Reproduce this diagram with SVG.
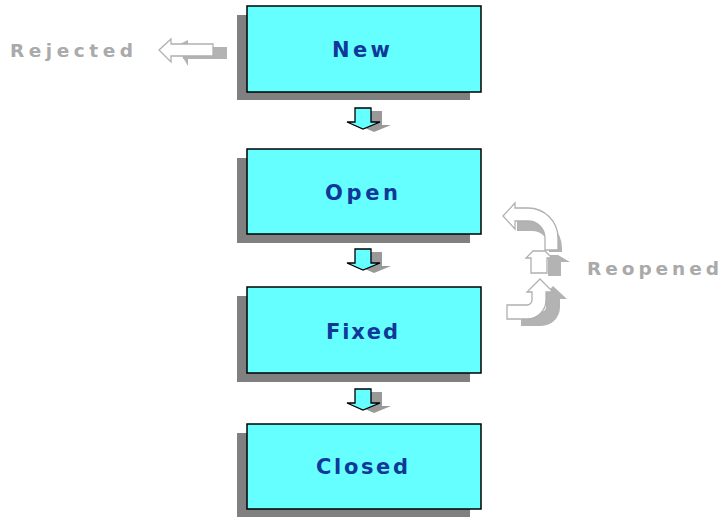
<svg xmlns="http://www.w3.org/2000/svg" width="725" height="517" viewBox="0 0 725 517">
<style>
.shadow{fill:#808080}
.box{fill:#66ffff;stroke:#000;stroke-width:1.5}
.lbl{font-family:"DejaVu Sans","Liberation Sans",sans-serif;font-weight:bold;font-size:21px;fill:#0f3898;text-anchor:middle}
.side{font-family:"DejaVu Sans","Liberation Sans",sans-serif;font-weight:bold;font-size:18.5px;fill:#aaaaaa}
.darr{fill:#66ffff;stroke:#000;stroke-width:1.3;stroke-linejoin:miter}
.dsh{fill:#999999}
.garr{fill:#ffffff;stroke:#b0b0b0;stroke-width:1.3}
.gsh{fill:#b3b3b3}
</style>
<defs>
<path id="down" d="M355,0 L371,0 L371,14 L380,14 L363,21 L347,14 L355,14 Z"/>
</defs>
<rect width="725" height="517" fill="#fff"/>
<g id="node-new">
<rect class="shadow" x="237" y="15" width="233" height="85"/>
<rect class="box" x="247" y="6" width="234" height="86"/>
<text class="lbl" x="361" y="57" textLength="58" lengthAdjust="spacing">New</text>
</g>
<g id="node-open">
<rect class="shadow" x="237" y="158" width="233" height="85"/>
<rect class="box" x="247" y="149" width="234" height="85"/>
<text class="lbl" x="361.5" y="199.5" textLength="73" lengthAdjust="spacing">Open</text>
</g>
<g id="node-fixed">
<rect class="shadow" x="237" y="296" width="233" height="86"/>
<rect class="box" x="247" y="287" width="234" height="86"/>
<text class="lbl" x="362" y="338.5" textLength="72" lengthAdjust="spacing">Fixed</text>
</g>
<g id="node-closed">
<rect class="shadow" x="237" y="433" width="233" height="84"/>
<rect class="box" x="247" y="424" width="234" height="85"/>
<text class="lbl" x="362" y="474" textLength="92" lengthAdjust="spacing">Closed</text>
</g>
<g id="connectors">
<use href="#down" class="dsh" transform="translate(11,111)"/>
<use href="#down" class="darr" transform="translate(0,108)"/>
<use href="#down" class="dsh" transform="translate(11,252)"/>
<use href="#down" class="darr" transform="translate(0,249)"/>
<use href="#down" class="dsh" transform="translate(11,392)"/>
<use href="#down" class="darr" transform="translate(0,389)"/>
<g id="rejected-arrow">
<path class="gsh" d="M183,47 L227,47 L227,59 L183,59 Z M176,46 L188,40 L188,66 Z"/>
<path class="garr" d="M159,50 L171,39 L171,44 L213,44 L213,56 L171,56 L171,62 Z"/>
</g>
<g id="reopened-arrows">
<path class="gsh" d="M517,218 L532,218 A30,30 0 0 1 562,248 L562,252 L549,252 L549,248 A17,17 0 0 0 532,231 L517,231 Z"/>
<path class="garr" d="M503,216 L515,203 L515,208 L528,208 A30,30 0 0 1 558,238 L558,250 L545,250 L545,238 A17,17 0 0 0 528,221 L515,221 L515,229 Z"/>
<path class="gsh" d="M548,255 L558,255 L570,262 L561,262 L561,276 L548,276 Z"/>
<path class="garr" d="M533,251 L545,251 L552,258 L547,258 L547,273 L531,273 L531,258 L526,258 Z"/>
<path class="gsh" d="M553,286 L567,299 L560,299 L560,307 A19,19 0 0 1 541,326 L521,326 L521,312 L541,312 A5,5 0 0 0 546,307 L546,299 L540,299 Z"/>
<path class="garr" d="M540,279 L553,292 L546,292 L546,300 A19,19 0 0 1 527,319 L507,319 L507,305 L527,305 A5,5 0 0 0 532,300 L532,292 L527,292 Z"/>
</g>
</g>
<text class="side" x="10" y="57" textLength="123" lengthAdjust="spacing">Rejected</text>
<text class="side" x="587" y="275" textLength="132" lengthAdjust="spacing">Reopened</text>
</svg>
